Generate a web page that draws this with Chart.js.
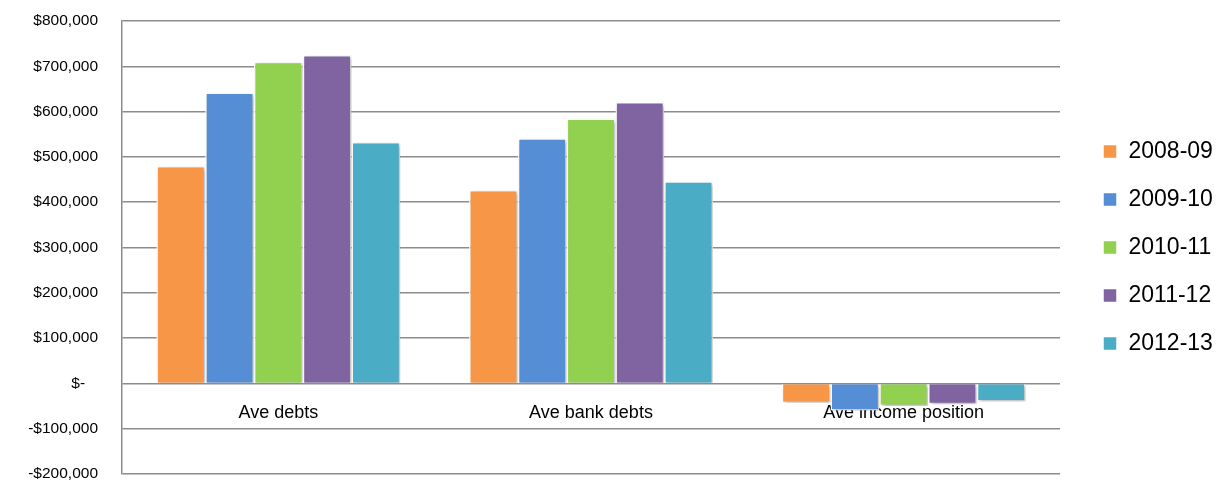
<!DOCTYPE html>
<html lang="en">
<head>
    <meta charset="UTF-8">
    <title>Average debts by year</title>
    <script src="https://cdn.jsdelivr.net/npm/chart.js"></script>
    <style>
        html, body { margin: 0; padding: 0; background: #fff; }
        #wrap { width: 1230px; height: 487px; position: relative; }
    </style>
</head>
<body>
    <div id="wrap"><canvas id="debtChart"></canvas></div>
    <script>
        const categories = ['Ave debts', 'Ave bank debts', 'Ave income position'];
        const years = ['2008-09', '2009-10', '2010-11', '2011-12', '2012-13'];
        const y0809 = [480000, 427000, -43000];
        const y0910 = [642000, 541000, -60000];
        const y1011 = [710000, 585000, -50000];
        const y1112 = [725000, 621000, -46000];
        const y1213 = [533000, 446000, -40000];
        const colors = ['#F79646', '#558ED5', '#92D050', '#8064A2', '#4BACC6'];

        const series = [y0809, y0910, y1011, y1112, y1213];

        // soft drop shadow under the bars, like the spreadsheet original
        const barShadow = {
            id: 'barShadow',
            beforeDatasetsDraw(chart) {
                const ctx = chart.ctx;
                ctx.save();
                ctx.shadowColor = 'rgba(0,0,0,0.28)';
                ctx.shadowBlur = 4;
                ctx.shadowOffsetX = 2;
                ctx.shadowOffsetY = 2;
            },
            afterDatasetsDraw(chart) {
                chart.ctx.restore();
            }
        };

        // keep plot right edge at 1060 and the legend column at x=1103
        const legendSpot = {
            id: 'legendSpot',
            afterInit(chart) {
                const lg = chart.legend;
                const fit = lg.fit;
                lg.fit = function () {
                    fit.call(this);
                    this.width = 170;
                };
            },
            afterLayout(chart) {
                const lg = chart.legend;
                lg.left = 1103 - 25;
                lg.right = lg.left + lg.width;
            }
        };

        const money = v => {
            if (v === 0) return '$-   ';
            return (v < 0 ? '-$' : '$') + Math.abs(v).toLocaleString('en-US');
        };

        new Chart(document.getElementById('debtChart'), {
            type: 'bar',
            data: {
                labels: categories,
                datasets: years.map((y, i) => ({
                    label: y,
                    data: series[i],
                    backgroundColor: colors[i],
                    borderColor: '#ffffff',
                    borderWidth: 1.5,
                    barPercentage: 1.0,
                    categoryPercentage: 0.78
                }))
            },
            options: {
                responsive: true,
                maintainAspectRatio: false,
                animation: false,
                layout: { padding: { top: 21, right: 0, bottom: 13, left: 0 } },
                plugins: {
                    tooltip: { enabled: false },
                    legend: {
                        position: 'right',
                        align: 'center',
                        labels: {
                            boxWidth: 14,
                            boxHeight: 14,
                            padding: 25,
                            color: '#000',
                            font: { family: 'Liberation Sans', size: 23 }
                        }
                    }
                },
                scales: {
                    x: {
                        position: { y: 0 },
                        z: 1,
                        grid: { display: false, drawTicks: false },
                        border: { display: false },
                        ticks: {
                            padding: 19,
                            color: '#000',
                            font: { family: 'Liberation Sans', size: 18 }
                        },
                        // axis sits on the zero line, so it should not eat plot height
                        afterFit(scale) { scale.height = 0; }
                    },
                    y: {
                        min: -200000,
                        max: 800000,
                        ticks: {
                            stepSize: 100000,
                            padding: 24,
                            color: '#000',
                            font: { family: 'Liberation Sans', size: 15.5 },
                            callback: money
                        },
                        grid: { color: '#8c8c8c', lineWidth: 1.5, drawTicks: false },
                        border: { display: true, color: '#8c8c8c', width: 1.5 },
                        afterFit(scale) {
                            scale.width = 122;
                            // tick padding also pads top/bottom; only need half a label
                            scale.paddingTop = 10;
                            scale.paddingBottom = 10;
                        }
                    }
                }
            },
            plugins: [barShadow, legendSpot]
        });
    </script>
</body>
</html>
